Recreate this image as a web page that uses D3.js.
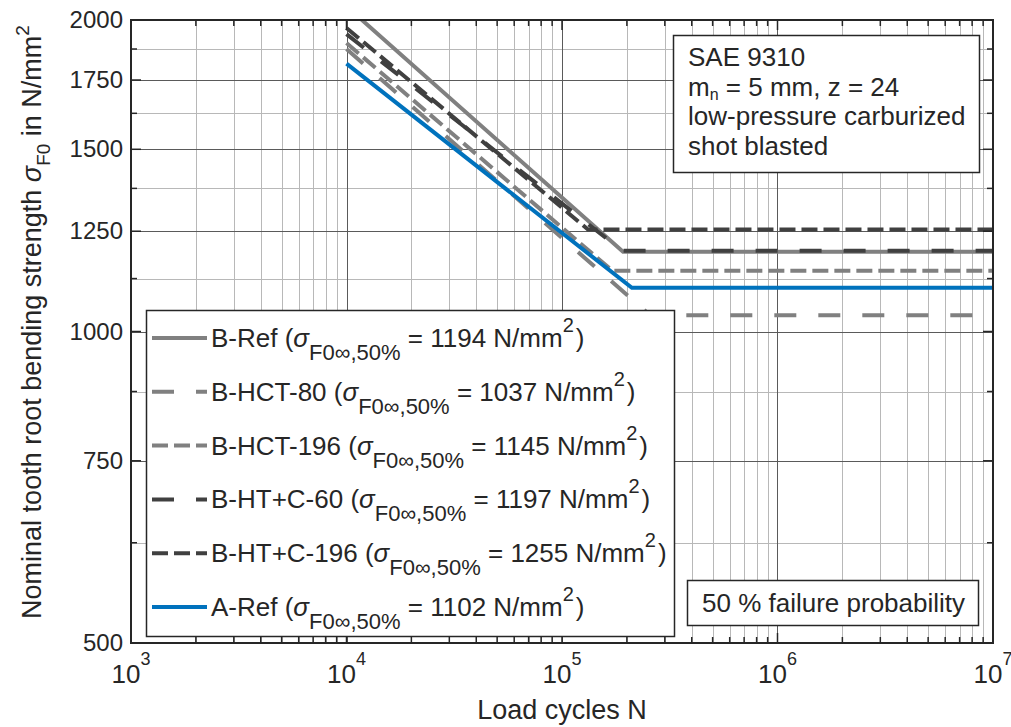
<!DOCTYPE html>
<html><head><meta charset="utf-8">
<script src="https://cdn.jsdelivr.net/npm/d3@7"></script>
<style>
html,body{margin:0;padding:0;background:#fff;}
svg text{font-family:"Liberation Sans",Arial,Helvetica,sans-serif;fill:#262626;}
</style></head>
<body>
<svg id="chart" width="1011" height="727"></svg>
<script>
// ---- data ----
const seriesNames = ["B-Ref", "B-HCT-80", "B-HCT-196", "B-HT+C-60", "B-HT+C-196", "A-Ref"];
const enduranceStrength = [1194, 1037, 1145, 1197, 1255, 1102];   // N/mm^2 (horizontal level)
const startCycles = [1e4, 1e4, 1e4, 1e4, 1e4, 1e4];
const startStrength = [2062, 1875, 1900, 1938, 1965, 1815];
const kneeCycles = [1.92e5, 2.56e5, 1.71e5, 1.90e5, 1.32e5, 2.11e5];
const endCycles = [1e7, 1e7, 1e7, 1e7, 1e7, 1e7];
const seriesColors = ["#808080", "#808080", "#808080", "#404040", "#404040", "#0072BD"];
const seriesDash = [null, "22,22", "16,6", "22,22", "16,6", null];

const xTicks = [1e3, 1e4, 1e5, 1e6, 1e7];
const xTickExp = ["3", "4", "5", "6", "7"];
const yTicks = [500, 750, 1000, 1250, 1500, 1750, 2000];
const yMinorTicks = [625, 875, 1125, 1375, 1625, 1875];

const infoLines = ["SAE 9310", "m|n| = 5 mm, z = 24", "low-pressure carburized", "shot blasted"];
const noteText = "50 % failure probability";

// ---- layout ----
const L = 131, R = 993, T = 20, B = 643;
const svg = d3.select("#chart");
const x = d3.scaleLog().domain([1e3, 1e7]).range([L, R]);
const y = d3.scaleLog().domain([500, 2000]).range([B, T]);

const xMinor = [];
for (let d = 3; d < 7; d++) for (let k = 2; k <= 9; k++) xMinor.push(k * Math.pow(10, d));

// grid
const grid = svg.append("g");
grid.selectAll(".xmin").data(xMinor).enter().append("line")
  .attr("x1", d => Math.round(x(d)) + 0.5).attr("x2", d => Math.round(x(d)) + 0.5)
  .attr("y1", T).attr("y2", B).attr("stroke", "#b8b8b8").attr("stroke-width", 1);
grid.selectAll(".ymin").data(yMinorTicks).enter().append("line")
  .attr("y1", d => Math.round(y(d)) + 0.5).attr("y2", d => Math.round(y(d)) + 0.5)
  .attr("x1", L).attr("x2", R).attr("stroke", "#b8b8b8").attr("stroke-width", 1);
grid.selectAll(".xmaj").data(xTicks).enter().append("line")
  .attr("x1", d => Math.round(x(d)) + 0.5).attr("x2", d => Math.round(x(d)) + 0.5)
  .attr("y1", T).attr("y2", B).attr("stroke", "#5a5a5a").attr("stroke-width", 1);
grid.selectAll(".ymaj").data(yTicks).enter().append("line")
  .attr("y1", d => Math.round(y(d)) + 0.5).attr("y2", d => Math.round(y(d)) + 0.5)
  .attr("x1", L).attr("x2", R).attr("stroke", "#5a5a5a").attr("stroke-width", 1);

// series
svg.append("clipPath").attr("id", "clip").append("rect")
  .attr("x", L).attr("y", T).attr("width", R - L).attr("height", B - T);
const line = d3.line().x(d => x(d[0])).y(d => y(d[1]));
const gs = svg.append("g").attr("clip-path", "url(#clip)");
seriesNames.forEach((name, i) => {
  const pts = [[startCycles[i], startStrength[i]], [kneeCycles[i], enduranceStrength[i]], [endCycles[i], enduranceStrength[i]]];
  gs.append("path").attr("d", line(pts)).attr("fill", "none")
    .attr("stroke", seriesColors[i]).attr("stroke-width", 4)
    .attr("stroke-dasharray", seriesDash[i]);
});

// axes (ticks inward)
const axisG = svg.append("g");
function ticks(g, vals, len, horizontal) {
  vals.forEach(v => {
    if (horizontal) {
      const px = x(v);
      g.append("line").attr("x1", px).attr("x2", px).attr("y1", B).attr("y2", B - len).attr("stroke", "#262626").attr("stroke-width", 1.5);
      g.append("line").attr("x1", px).attr("x2", px).attr("y1", T).attr("y2", T + len).attr("stroke", "#262626").attr("stroke-width", 1.5);
    } else {
      const py = y(v);
      g.append("line").attr("y1", py).attr("y2", py).attr("x1", L).attr("x2", L + len).attr("stroke", "#262626").attr("stroke-width", 1.5);
      g.append("line").attr("y1", py).attr("y2", py).attr("x1", R).attr("x2", R - len).attr("stroke", "#262626").attr("stroke-width", 1.5);
    }
  });
}
ticks(axisG, xMinor, 6, true);
ticks(axisG, xTicks, 10, true);
ticks(axisG, yMinorTicks, 6, false);
ticks(axisG, yTicks, 10, false);
axisG.append("rect").attr("x", L).attr("y", T).attr("width", R - L).attr("height", B - T)
  .attr("fill", "none").attr("stroke", "#262626").attr("stroke-width", 2);

// tick labels
yTicks.forEach(v => {
  svg.append("text").attr("x", L - 8).attr("y", y(v) + 8).attr("text-anchor", "end")
    .attr("font-size", 24).text(v);
});
xTicks.forEach((v, i) => {
  const t = svg.append("text").attr("x", x(v)).attr("y", 683).attr("text-anchor", "middle").attr("font-size", 26);
  t.append("tspan").text("10");
  t.append("tspan").attr("dy", -18).attr("font-size", 18).text(xTickExp[i]);
});

// axis labels
svg.append("text").attr("x", (L + R) / 2).attr("y", 719).attr("text-anchor", "middle")
  .attr("font-size", 27).text("Load cycles N");
const yl = svg.append("text").attr("transform", "translate(41,322) rotate(-90)")
  .attr("text-anchor", "middle").attr("font-size", 27);
yl.append("tspan").text("Nominal tooth root bending strength ");
yl.append("tspan").attr("font-style", "italic").text("σ");
yl.append("tspan").attr("dy", 9).attr("font-size", 19).text("F0");
yl.append("tspan").attr("dy", -9).text(" in N/mm");
yl.append("tspan").attr("dy", -12).attr("font-size", 19).text("2");

// legend
const lg = svg.append("g");
lg.append("rect").attr("x", 146.5).attr("y", 310.5).attr("width", 528).attr("height", 326)
  .attr("fill", "#fff").attr("stroke", "#262626").attr("stroke-width", 1.5);
const rowY0 = 338, rowStep = 53.8;
seriesNames.forEach((name, i) => {
  const cy = rowY0 + i * rowStep;
  lg.append("line").attr("x1", 152).attr("x2", 207).attr("y1", cy).attr("y2", cy)
    .attr("stroke", seriesColors[i]).attr("stroke-width", 4).attr("stroke-dasharray", seriesDash[i]);
  const t = lg.append("text").attr("x", 211).attr("y", cy + 9).attr("font-size", 26);
  t.append("tspan").text(name + " (");
  t.append("tspan").attr("font-style", "italic").text("σ");
  t.append("tspan").attr("dy", 13).attr("font-size", 22).text("F0∞,50%");
  t.append("tspan").attr("dy", -13).text(" = " + enduranceStrength[i] + " N/mm");
  t.append("tspan").attr("dy", -15).attr("font-size", 20).text("2");
  t.append("tspan").attr("dy", 15).attr("dx", 2).text(")");
});

// info box
const ib = svg.append("g");
ib.append("rect").attr("x", 673.5).attr("y", 35.5).attr("width", 306).attr("height", 137)
  .attr("fill", "#fff").attr("stroke", "#262626").attr("stroke-width", 1.5);
infoLines.forEach((s, i) => {
  const t = ib.append("text").attr("x", 688).attr("y", 66 + i * 29.5).attr("font-size", 26);
  const parts = s.split("|");
  if (parts.length === 3) {
    t.append("tspan").text(parts[0]);
    t.append("tspan").attr("dy", 4).attr("font-size", 16).text(parts[1]);
    t.append("tspan").attr("dy", -4).text(parts[2]);
  } else t.text(s);
});

// note box
svg.append("rect").attr("x", 687.5).attr("y", 580.5).attr("width", 291).attr("height", 45)
  .attr("fill", "#fff").attr("stroke", "#262626").attr("stroke-width", 1.5);
svg.append("text").attr("x", 702).attr("y", 612).attr("font-size", 26).text(noteText);
</script>
</body></html>
